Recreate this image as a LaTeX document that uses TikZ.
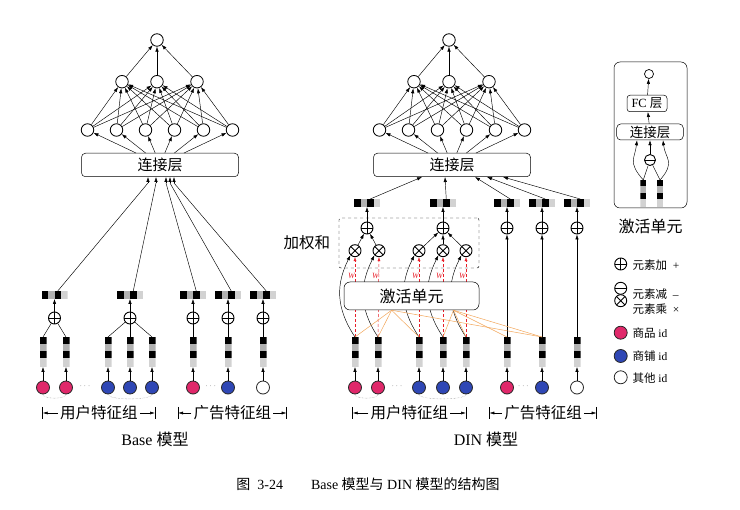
\documentclass[tikz,border=0pt]{standalone}
\usepackage{fontspec}
\setmainfont{Liberation Serif}
\newfontfamily\cjk{Noto Sans CJK SC}
\usetikzlibrary{positioning,arrows.meta,calc}
\definecolor{idpink}{HTML}{E0286A}
\definecolor{idblue}{HTML}{2F47B5}
\definecolor{wred}{HTML}{E8202A}
\definecolor{attorange}{HTML}{F2A65A}
\newcommand{\ppb}{path picture bounding box}

\tikzset{
  neuron/.style={circle, draw, line width=0.8pt, minimum size=12.5pt, inner sep=0pt},
  fcarrow/.style={-{Latex[length=5pt,width=3.4pt]}, line width=0.45pt},
  layerbox/.style={draw, rounded corners=4pt, line width=0.5pt, fill=white,
    minimum width=157pt, minimum height=23.5pt, inner sep=0pt,
    font=\cjk\fontsize{15}{15}\selectfont},
  opcirc/.style={circle, draw, fill=white, line width=0.9pt, minimum size=12pt, inner sep=0pt},
  opplus/.style={opcirc, path picture={\draw[line width=0.9pt] (\ppb.north) -- (\ppb.south) (\ppb.west) -- (\ppb.east);}},
  opminus/.style={opcirc, path picture={\draw[line width=0.9pt] (\ppb.west) -- (\ppb.east);}},
  optimes/.style={opcirc, path picture={\draw[line width=0.9pt] (\ppb.north west) -- (\ppb.south east) (\ppb.north east) -- (\ppb.south west);}},
  idnode/.style={circle, draw=black!85, line width=0.8pt, minimum size=13pt, inner sep=0pt},
  hvec/.style={minimum width=26pt, minimum height=8pt, inner sep=0pt, outer sep=0pt,
    path picture={\foreach \a/\b/\c in {0/0.25/black,0.25/0.5/gray!60,0.5/0.75/black,0.75/1/gray!35}
      \fill[\c] ($(\ppb.south west)!\a!(\ppb.south east)$) rectangle ($(\ppb.north west)!\b!(\ppb.north east)$);}},
  vemb/.style={minimum width=7pt, minimum height=30pt, inner sep=0pt, outer sep=0pt,
    path picture={\foreach \a/\b/\c in {0/0.22/black,0.22/0.47/gray!60,0.47/0.7/black,0.7/1/gray!35}
      \fill[\c] ($(\ppb.north west)!\a!(\ppb.south west)$) rectangle ($(\ppb.north east)!\b!(\ppb.south east)$);}},
  zh/.style={font=\cjk\fontsize{15.5}{16}\selectfont},
  legtext/.style={font=\fontsize{11.5}{11.5}\selectfont, anchor=west},
  bracearrow/.style={-{Latex[length=5pt,width=3pt]}, line width=0.5pt},
}

\begin{document}
\begin{tikzpicture}[x=1pt,y=-1pt]
  \useasboundingbox (0,0) rectangle (740,510);

  % Capas superiores (Base y DIN)
  \foreach \m/\cx in {b/160,d/452}{
    \node[layerbox] (cat-\m) at (\cx,165) {连接层};
    \foreach \i in {1,...,6}
      \node[neuron] (h1-\m-\i) at ({\cx+(\i-3.5)*29},130) {};
    \foreach \j/\dx in {1/-38,2/-3,3/37}
      \node[neuron] (h2-\m-\j) at ({\cx+\dx},81.7) {};
    \node[neuron] (out-\m) at ({\cx-3},40) {};
    \foreach \i in {1,...,6}{
      \draw[fcarrow] ($(cat-\m.north)+({(\i-3.5)*9.6},0)$) -- (h1-\m-\i);
      \foreach \j in {1,2,3}
        \draw[fcarrow] (h1-\m-\i) -- (h2-\m-\j);
    }
    \foreach \j in {1,2,3}
      \draw[fcarrow] (h2-\m-\j) -- (out-\m);
  }

  % Base: ids y embeddings
  \foreach \i/\x/\c in {1/43/idpink,2/66/idpink,3/108/idblue,4/130/idblue,5/152/idblue,6/193/idpink,7/228/idblue,8/263/white}{
    \node[idnode, fill=\c] (id-b-\i) at (\x,387.5) {};
    \node[vemb] (e-b-\i) at (\x,352) {};
    \draw[fcarrow] (id-b-\i) -- (e-b-\i);
  }
  \foreach \g/\x/\off in {1/54.5/-12,2/130/-4,3/193/6,4/228/10,5/263/14}{
    \node[opplus] (sum-b-\g) at (\x,318) {};
    \node[hvec] (v-b-\g) at (\x,295) {};
    \draw[fcarrow] (sum-b-\g) -- (v-b-\g);
    \draw[line width=0.45pt] ($(v-b-\g.north)+(3.25,0)$) -- ($(cat-b.south)+(\off,6)$);
    \draw[fcarrow] ($(cat-b.south)+(\off,6)$) -- ($(cat-b.south)+(\off,0)$);
  }
  \foreach \e/\g in {1/1,2/1,3/2,4/2,5/2,6/3,7/4,8/5}
    \draw[line width=0.45pt] (e-b-\e.north) -- (sum-b-\g);

  % DIN: ids y embeddings
  \foreach \i/\x/\c in {1/355/idpink,2/378/idpink,3/419/idblue,4/443/idblue,5/466/idblue,6/507/idpink,7/542/idblue,8/577/white}{
    \node[idnode, fill=\c] (id-d-\i) at (\x,387.5) {};
    \node[vemb] (e-d-\i) at (\x,352) {};
    \draw[fcarrow] (id-d-\i) -- (e-d-\i);
  }

  % Suma ponderada
  \node[draw, dashed, rounded corners=2pt, line width=0.45pt, minimum width=140pt, minimum height=50pt] (wsum) at (409,243) {};
  \node[zh, left=5pt of wsum] (wlabel) {加权和};
  \foreach \i/\x in {1/355,2/379,3/419,4/443,5/466}
    \node[optimes] (mul-\i) at (\x,250.7) {};
  \foreach \g/\x/\off in {1/367/-30,2/443/-7,3/507/23,4/542/35,5/577/51}{
    \node[opplus] (sum-d-\g) at (\x,228) {};
    \node[hvec] (v-d-\g) at (\x,203) {};
    \draw[fcarrow] (sum-d-\g) -- (v-d-\g);
    \draw[fcarrow] ($(v-d-\g.north)+(3.25,0)$) -- ($(cat-d.south)+(\off,0)$);
  }
  \foreach \i/\g in {1/1,2/1,3/2,4/2,5/2}
    \draw[fcarrow] (mul-\i) -- (sum-d-\g);
  \foreach \e/\g in {6/3,7/4,8/5}
    \draw[fcarrow] (e-d-\e) -- (sum-d-\g);

  % Pesos del activation unit
  \foreach \i in {1,...,5}{
    \draw[fcarrow] (e-d-\i.north) .. controls +(-20,-30) and +(-14,28) .. (mul-\i.south west);
    \draw[wred, densely dashed, line width=0.5pt, -{Latex[length=4pt,width=3pt]}] (e-d-\i.north) -- (mul-\i.south);
    \node[font=\fontsize{8}{8}\selectfont\itshape, text=wred, inner sep=0pt] (w-\i) at ($(mul-\i.south)+(-3.5,18.5)$) {W};
  }
  \node[layerbox, rounded corners=6pt, minimum width=135pt, minimum height=28pt,
    font=\cjk\fontsize{16}{16}\selectfont] (act) at (411.5,296) {激活单元};
  \coordinate (hubA) at ($(act.south west)!0.353!(act.south east)$);
  \coordinate (hubB) at ($(act.south west)!0.81!(act.south east)$);
  \foreach \e in {1,2,3,7}
    \draw[attorange, line width=0.5pt] (hubA) -- (e-d-\e.north);
  \foreach \e in {4,5,6,7}
    \draw[attorange, line width=0.5pt] (hubB) -- (e-d-\e.north);

  % Arcos punteados y puntos
  \foreach \m in {b,d}{
    \draw[gray, densely dotted] (id-\m-1.south) .. controls +(0,5) and +(0,5) .. (id-\m-2.south);
    \draw[gray, densely dotted] (id-\m-3.south) .. controls +(0,6) and +(0,6) .. (id-\m-5.south);
    \foreach \e in {6,7,8}
      \draw[gray!60, densely dotted] (id-\m-\e.south west) .. controls +(2,3) and +(-2,3) .. (id-\m-\e.south east);
  }
  \foreach \m/\p/\q in {b/85/210.7,d/397/523.3}{
    \node[gray, font=\small] (dotsA-\m) at (\p,386) {$\cdots$};
    \node[gray, font=\small] (dotsB-\m) at (\q,386) {$\cdots$};
  }

  % Grupos de features
  \foreach \m/\ul/\ur/\al/\ar in {b/42.7/155/178/286.7,d/352.7/466/489.3/596.7}{
    \node[zh, inner sep=2pt] (ug-\m) at ({(\ul+\ur)/2},413) {用户特征组};
    \node[zh, inner sep=2pt] (ag-\m) at ({(\al+\ar)/2},413) {广告特征组};
    \coordinate (ugl-\m) at (\ul,413);
    \coordinate (ugr-\m) at (\ur,413);
    \coordinate (agl-\m) at (\al,413);
    \coordinate (agr-\m) at (\ar,413);
    \foreach \t/\s in {ug/ugl,ug/ugr,ag/agl,ag/agr}{
      \draw[bracearrow] (\t-\m) -- (\s-\m);
      \draw[line width=0.5pt] ($(\s-\m)+(0,-6)$) -- ($(\s-\m)+(0,6)$);
    }
  }
  \node[font=\fontsize{16}{16}\selectfont] (name-b) at (155,439) {Base {\cjk 模型}};
  \node[font=\fontsize{16}{16}\selectfont] (name-d) at (486,439) {DIN {\cjk 模型}};

  % Detalle del activation unit
  \node[draw, rounded corners=6pt, line width=0.5pt, minimum width=73pt, minimum height=146pt] (unit) at (650.5,135) {};
  \node[neuron, minimum size=9pt, line width=0.7pt] (u-out) at (649,74) {};
  \node[draw, rounded corners=3pt, line width=0.5pt, minimum width=40pt, minimum height=16.5pt, inner sep=0pt,
    font=\fontsize{12.5}{12.5}\selectfont] (u-fc) at (647,103.5) {FC {\cjk 层}};
  \node[draw, rounded corners=4pt, line width=0.5pt, minimum width=66.6pt, minimum height=16pt, inner sep=0pt,
    font=\cjk\fontsize{13.5}{13.5}\selectfont] (u-cat) at (650,132) {连接层};
  \node[opminus, minimum size=11pt] (u-sub) at (650,160) {};
  \node[vemb, minimum width=6pt, minimum height=27pt] (u-e1) at (643.3,193.5) {};
  \node[vemb, minimum width=6pt, minimum height=27pt] (u-e2) at (660,193.5) {};
  \draw[fcarrow] (u-fc) -- (u-out);
  \draw[fcarrow] (u-cat) -- (u-fc);
  \draw[fcarrow] (u-sub) -- (u-cat);
  \draw[line width=0.45pt] (u-e1.north) -- (u-sub);
  \draw[line width=0.45pt] (u-e2.north) -- (u-sub);
  \draw[fcarrow] (u-e1.north) .. controls +(-16,-18) and +(-2,18) .. ($(u-cat.south)+(-13,0)$);
  \draw[fcarrow] (u-e2.north) .. controls +(16,-18) and +(2,18) .. ($(u-cat.south)+(13,0)$);
  \node[font=\cjk\fontsize{16}{16}\selectfont, below=7pt of unit] (u-label) {激活单元};

  % Leyenda
  \node[opplus] (lg-plus) at (620.7,264) {};
  \node[opminus] (lg-minus) at (620.7,288.3) {};
  \node[optimes] (lg-times) at (620.7,300.7) {};
  \node[legtext] (lt-plus) at (629,265) {{\cjk 元素加}\ \ +};
  \node[legtext] (lt-minus) at (629,294.5) {{\cjk 元素减}\ \ –};
  \node[legtext] (lt-times) at (629,309) {{\cjk 元素乘}\ \ ×};
  \node[idnode, fill=idpink] (lg-pink) at (620.7,332.7) {};
  \node[idnode, fill=idblue] (lg-blue) at (620.7,356) {};
  \node[idnode, fill=white] (lg-white) at (620.7,377.3) {};
  \node[legtext] (lt-pink) at (629,333) {{\cjk 商品} id};
  \node[legtext] (lt-blue) at (629,356.5) {{\cjk 商铺} id};
  \node[legtext] (lt-white) at (629,378) {{\cjk 其他} id};

  % Titulo
  \node[font=\fontsize{14}{14}\selectfont] (caption) at (368,484)
    {{\cjk 图}\ \ 3-24\hspace{2em}Base\ {\cjk 模型与}\ DIN\ {\cjk 模型的结构图}};
\end{tikzpicture}
\end{document}
